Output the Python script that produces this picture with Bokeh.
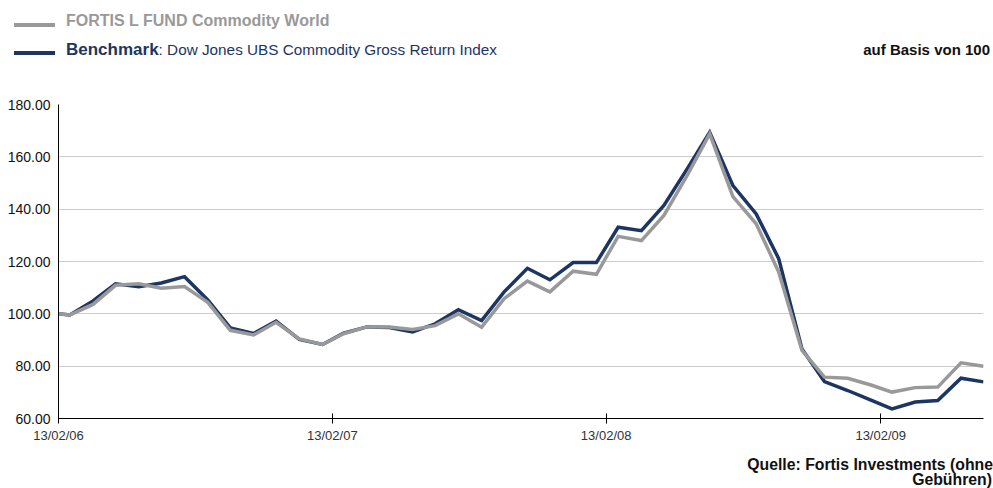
import datetime as dt
from bokeh.plotting import figure
from bokeh.layouts import column
from bokeh.models import (ColumnDataSource, FixedTicker, DatetimeTickFormatter,
                          NumeralTickFormatter, Range1d, Div)
from bokeh.embed import file_html
from bokeh.resources import INLINE

# ---- data -------------------------------------------------------------
dates = [
    "2006-02-13", "2006-02-28", "2006-03-31", "2006-04-30", "2006-05-31", "2006-06-30",
    "2006-07-31", "2006-08-31", "2006-09-30", "2006-10-31", "2006-11-30", "2006-12-31",
    "2007-01-31", "2007-02-28", "2007-03-31", "2007-04-30", "2007-05-31", "2007-06-30",
    "2007-07-31", "2007-08-31", "2007-09-30", "2007-10-31", "2007-11-30", "2007-12-31",
    "2008-01-31", "2008-02-29", "2008-03-31", "2008-04-30", "2008-05-31", "2008-06-30",
    "2008-07-31", "2008-08-31", "2008-09-30", "2008-10-31", "2008-11-30", "2008-12-31",
    "2009-01-31", "2009-02-28", "2009-03-31", "2009-04-30", "2009-05-31", "2009-06-30",
]
fund = [
    100.0, 99.6, 103.6, 110.9, 111.5, 109.8, 110.4, 104.4, 93.7, 91.9, 96.8, 90.4,
    88.3, 92.4, 95.0, 95.0, 94.0, 95.5, 100.0, 94.9, 105.8, 112.5, 108.4, 116.3,
    115.1, 129.6, 128.0, 137.6, 152.9, 168.8, 144.8, 134.4, 116.0, 86.0, 75.8, 75.4,
    72.8, 70.1, 71.8, 72.0, 81.3, 80.0,
]
benchmark = [
    100.0, 99.6, 104.9, 111.5, 110.4, 111.8, 114.2, 105.3, 94.6, 92.5, 97.2, 90.2,
    88.3, 92.6, 95.0, 94.8, 93.1, 96.2, 101.6, 97.4, 108.4, 117.4, 113.0, 119.6,
    119.6, 133.1, 131.8, 141.4, 155.4, 169.4, 149.0, 138.2, 121.1, 86.6, 74.1, 70.7,
    67.0, 63.7, 66.3, 66.9, 75.4, 74.0,
]
tick_dates = ["2006-02-13", "2007-02-13", "2008-02-13", "2009-02-13"]
y_ticks = [60, 80, 100, 120, 140, 160, 180]

fund_name = "FORTIS L FUND Commodity World"
bench_bold = "Benchmark"
bench_rest = ": Dow Jones UBS Commodity Gross Return Index"
basis_text = "auf Basis von 100"
source_line1 = "Quelle: Fortis Investments (ohne"
source_line2 = "Gebühren)"

# ---- helpers ----------------------------------------------------------
def to_dt(s):
    return dt.datetime.strptime(s, "%Y-%m-%d")

EPOCH = dt.datetime(1970, 1, 1)
def to_ms(s):
    return (to_dt(s) - EPOCH).total_seconds() * 1000.0

GREY = "#999999"
NAVY = "#1c3562"
DARK = "#111111"
FONT = "Liberation Sans"
W = 993
HEAD_H = 70
MAIN_H = 375
FOOT_H = 488 - HEAD_H - MAIN_H

# ---- header (legend) --------------------------------------------------
ff = "font-family:'Liberation Sans',Arial,sans-serif;"
header_html = f"""
<div style="position:relative;width:{W}px;height:{HEAD_H}px;{ff}margin:0;padding:0;">
  <div style="position:absolute;left:14px;top:22.5px;width:41px;height:4px;background:{GREY};"></div>
  <div style="position:absolute;left:14px;top:51px;width:41px;height:4px;background:{NAVY};"></div>
  <div style="position:absolute;left:66px;top:13.3px;white-space:nowrap;line-height:16px;
              font-size:16px;font-weight:bold;color:{GREY};">{fund_name}</div>
  <div style="position:absolute;left:66px;top:40.6px;white-space:nowrap;line-height:17px;
              color:{NAVY};"><span style="font-size:17px;font-weight:bold;">{bench_bold}</span><span
              style="font-size:15.3px;">{bench_rest}</span></div>
  <div style="position:absolute;right:3px;top:42.3px;white-space:nowrap;line-height:15px;
              font-size:15px;font-weight:bold;color:{DARK};">{basis_text}</div>
</div>
"""
header = Div(text=header_html, width=W, height=HEAD_H, margin=(0, 0, 0, 0))

# ---- main chart -------------------------------------------------------
src = ColumnDataSource(data=dict(
    date=[to_dt(d) for d in dates],
    fund=fund,
    bench=benchmark,
))

p = figure(width=W, height=MAIN_H, output_backend="svg", toolbar_location=None,
           x_axis_type="datetime",
           x_range=Range1d(to_dt(dates[0]), to_dt(dates[-1])),
           y_range=Range1d(60, 180),
           min_border_left=58, min_border_right=10,
           min_border_top=34, min_border_bottom=27)
p.outline_line_color = None
p.background_fill_color = "white"
p.border_fill_color = "white"

p.line("date", "bench", source=src, line_color=NAVY, line_width=3.5, line_join="miter")
p.line("date", "fund", source=src, line_color=GREY, line_width=3.5, line_join="miter")

p.xgrid.grid_line_color = None
p.ygrid.grid_line_color = "#cccccc"
p.ygrid.grid_line_width = 1

xa = p.xaxis[0]
xa.ticker = FixedTicker(ticks=[to_ms(t) for t in tick_dates])
fmt = "%d/%m/%y"
xa.formatter = DatetimeTickFormatter(microseconds=fmt, milliseconds=fmt, seconds=fmt,
                                     minsec=fmt, minutes=fmt, hourmin=fmt, hours=fmt,
                                     days=fmt, months=fmt, years=fmt)
xa.minor_tick_line_color = None
xa.major_tick_in = 5
xa.major_tick_out = 5
xa.axis_line_color = "black"
xa.major_tick_line_color = "black"
xa.major_label_text_font = FONT
xa.major_label_text_font_size = "13px"
xa.major_label_text_color = "#333333"
xa.major_label_standoff = 4

ya = p.yaxis[0]
ya.ticker = FixedTicker(ticks=y_ticks)
ya.formatter = NumeralTickFormatter(format="0.00")
ya.minor_tick_line_color = None
ya.major_tick_in = 0
ya.major_tick_out = 0
ya.axis_line_color = "black"
ya.major_label_text_font = FONT
ya.major_label_text_font_size = "14px"
ya.major_label_text_color = DARK
ya.major_label_standoff = 8

# ---- footer (source) --------------------------------------------------
footer_html = f"""
<div style="position:relative;width:{W}px;height:{FOOT_H}px;{ff}margin:0;padding:0;
            font-size:15.8px;font-weight:bold;color:{DARK};line-height:15.8px;">
  <div style="position:absolute;right:0px;top:11.6px;white-space:nowrap;">{source_line1}</div>
  <div style="position:absolute;right:1px;top:27.4px;white-space:nowrap;">{source_line2}</div>
</div>
"""
footer = Div(text=footer_html, width=W, height=FOOT_H, margin=(0, 0, 0, 0))

page = column(header, p, footer, spacing=0)
open("out.html", "w").write(file_html(page, INLINE))
